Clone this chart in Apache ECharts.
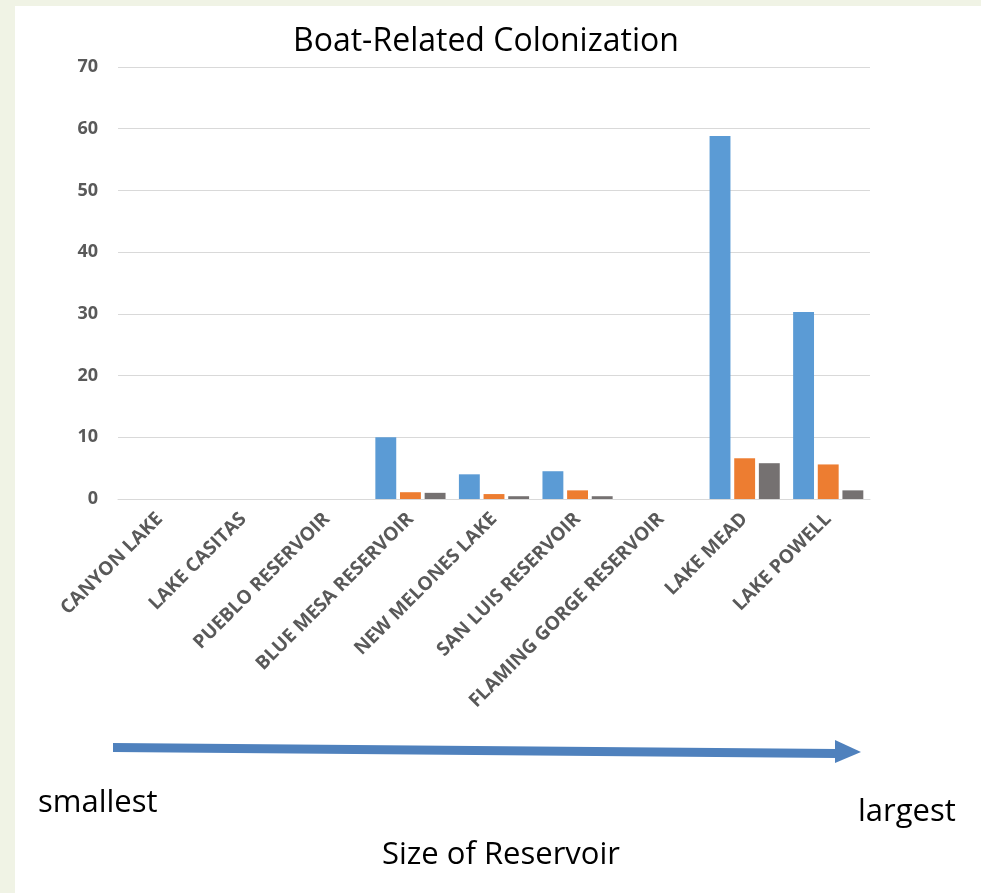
<!DOCTYPE html>
<html>
<head>
<meta charset="utf-8">
<script src="https://cdn.jsdelivr.net/npm/echarts@6/dist/echarts.min.js"></script>
<style>
  html, body { margin: 0; padding: 0; width: 981px; height: 893px; background: #f0f3e5; overflow: hidden; }
  #chart { position: absolute; left: 15px; top: 6px; width: 966px; height: 887px; background: #ffffff; }
</style>
</head>
<body>
<div id="chart"></div>
<script>
// Reservoirs ordered from smallest to largest
const reservoirs = [
  'CANYON LAKE', 'LAKE CASITAS', 'PUEBLO RESERVOIR', 'BLUE MESA RESERVOIR',
  'NEW MELONES LAKE', 'SAN LUIS RESERVOIR', 'FLAMING GORGE RESERVOIR',
  'LAKE MEAD', 'LAKE POWELL'
];
const seriesA = [0, 0, 0, 10.0, 4.0, 4.5, 0, 58.8, 30.3];
const seriesB = [0, 0, 0, 1.1, 0.8, 1.4, 0, 6.6, 5.6];
const seriesC = [0, 0, 0, 1.0, 0.45, 0.45, 0, 5.8, 1.4];
const yTicks = { min: 0, max: 70, step: 10 };

const chart = echarts.init(document.getElementById('chart'), null, { renderer: 'canvas' });
const font = '"Open Sans", Lato, sans-serif';

function barSeries(name, data, color) {
  return {
    name: name,
    type: 'bar',
    data: data,
    barGap: '18%',
    barCategoryGap: '16%',
    itemStyle: { color: color }
  };
}

chart.setOption({
  animation: false,
  title: {
    text: 'Boat-Related Colonization',
    left: 273,
    top: 15,
    textStyle: { fontFamily: font, fontSize: 32, fontWeight: 'normal', color: '#000000' }
  },
  grid: { left: 103, right: 111, top: 61, bottom: 394 },
  xAxis: {
    type: 'category',
    data: reservoirs,
    axisLine: { lineStyle: { color: '#d9d9d9', width: 1 } },
    axisTick: { show: false },
    axisLabel: {
      interval: 0,
      rotate: 45,
      margin: 17,
      color: '#595959',
      fontFamily: font,
      fontWeight: 'bold',
      fontSize: 19
    }
  },
  yAxis: {
    type: 'value',
    min: yTicks.min,
    max: yTicks.max,
    interval: yTicks.step,
    axisLine: { show: false },
    axisTick: { show: false },
    splitLine: { lineStyle: { color: '#d9d9d9', width: 1 } },
    axisLabel: {
      margin: 20,
      color: '#595959',
      fontFamily: font,
      fontWeight: 'bold',
      fontSize: 18
    }
  },
  series: [
    barSeries('A', seriesA, '#5b9bd5'),
    barSeries('B', seriesB, '#ed7d31'),
    barSeries('C', seriesC, '#757171')
  ],
  graphic: [
    // size arrow under the category labels
    {
      type: 'polygon',
      shape: { points: [[98, 737], [822, 743], [822, 752], [98, 746]] },
      style: { fill: '#4f81bd' }
    },
    {
      type: 'polygon',
      shape: { points: [[820, 734], [846, 746], [820, 757]] },
      style: { fill: '#4f81bd' }
    },
    {
      type: 'text',
      left: 23, top: 782,
      style: { text: 'smallest', fontFamily: font, fontSize: 31, fill: '#000000' }
    },
    {
      type: 'text',
      left: 843, top: 791,
      style: { text: 'largest', fontFamily: font, fontSize: 31, fill: '#000000' }
    },
    {
      type: 'text',
      left: 367, top: 834,
      style: { text: 'Size of Reservoir', fontFamily: font, fontSize: 31, fill: '#000000' }
    }
  ]
});
</script>
</body>
</html>
